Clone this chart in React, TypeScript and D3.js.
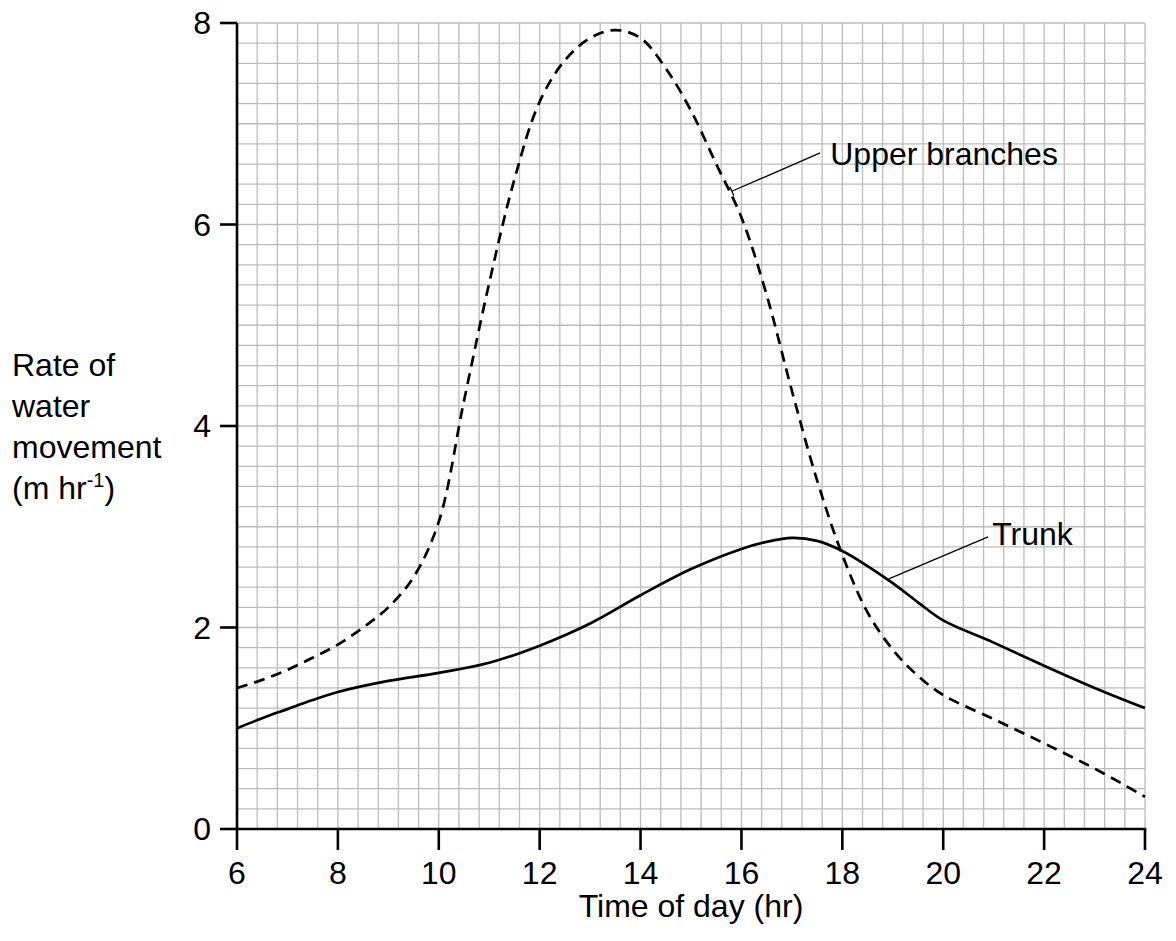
import React from "react";
import * as d3 from "d3";

const upperHours = [6, 6.5, 7, 7.5, 8, 8.5, 9, 9.5, 10, 10.5, 11, 11.5, 12, 12.5, 13, 13.5, 14, 14.5, 15, 15.5, 16, 16.5, 17, 17.5, 18, 18.5, 19, 19.5, 20, 21, 22, 23, 24];
const upperValues = [1.4, 1.48, 1.58, 1.7, 1.83, 2.0, 2.2, 2.5, 3.05, 4.25, 5.42, 6.45, 7.22, 7.63, 7.85, 7.93, 7.85, 7.55, 7.13, 6.6, 6.07, 5.3, 4.35, 3.46, 2.72, 2.15, 1.78, 1.52, 1.33, 1.09, 0.85, 0.6, 0.32];

const trunkHours = [6, 6.5, 7, 7.5, 8, 9, 10, 11, 12, 13, 14, 15, 16, 16.5, 17, 17.5, 18, 18.5, 19, 19.5, 20, 21, 22, 23, 24];
const trunkValues = [1.0, 1.1, 1.19, 1.28, 1.36, 1.47, 1.55, 1.65, 1.82, 2.04, 2.32, 2.58, 2.78, 2.85, 2.89, 2.86, 2.76, 2.61, 2.44, 2.25, 2.07, 1.85, 1.62, 1.4, 1.2];

const xTicks = [6, 8, 10, 12, 14, 16, 18, 20, 22, 24];
const yTicks = [0, 2, 4, 6, 8];
const yTitleLines = ["Rate of", "water", "movement"];
const xTitle = "Time of day (hr)";

const upperLabel = { text: "Upper branches", tx: 17.76, ty: 6.59, x1: 17.56, y1: 6.71, x2: 15.81, y2: 6.33 };
const trunkLabel = { text: "Trunk", tx: 20.97, ty: 2.82, x1: 20.89, y1: 2.9, x2: 18.91, y2: 2.48 };

export default function App() {
  const W = 1176, H = 941;
  const x = d3.scaleLinear().domain([6, 24]).range([237, 1145]);
  const y = d3.scaleLinear().domain([0, 8]).range([829, 23]);
  const font = "'Liberation Sans', Arial, Helvetica, sans-serif";
  const fs = 32;

  const xGrid = d3.range(0, 46).map((i) => 6 + i * 0.4);
  const yGrid = d3.range(0, 41).map((i) => i * 0.2);

  const line = d3
    .line<[number, number]>()
    .x((d) => x(d[0]))
    .y((d) => y(d[1]))
    .curve(d3.curveCatmullRom.alpha(0.5));

  const upperPath = line(upperHours.map((h, i) => [h, upperValues[i]]) as [number, number][]) || "";
  const trunkPath = line(trunkHours.map((h, i) => [h, trunkValues[i]]) as [number, number][]) || "";

  const ux1 = x(upperLabel.x1), uy1 = y(upperLabel.y1), ux2 = x(upperLabel.x2), uy2 = y(upperLabel.y2);
  const len = Math.hypot(ux1 - ux2, uy1 - uy2);
  const px = -(uy1 - uy2) / len, py = (ux1 - ux2) / len;

  return (
    <svg width={W} height={H} style={{ position: "absolute", left: 0, top: 0, background: "#fff" }} fontFamily={font}>
      <rect x={0} y={0} width={W} height={H} fill="#fff" />
      <g stroke="#bcbcbc" strokeWidth={1.3}>
        {xGrid.map((g, i) => (
          <line key={"gx" + i} x1={x(g)} x2={x(g)} y1={y(0)} y2={y(8)} />
        ))}
        {yGrid.map((g, i) => (
          <line key={"gy" + i} x1={x(6)} x2={x(24)} y1={y(g)} y2={y(g)} />
        ))}
      </g>

      <path d={upperPath} fill="none" stroke="#000" strokeWidth={2.7} strokeDasharray="11 7" />
      <path d={trunkPath} fill="none" stroke="#000" strokeWidth={2.7} />

      <line x1={x(6)} x2={x(6)} y1={y(0) + 1.3} y2={y(8)} stroke="#000" strokeWidth={2.6} />
      <line x1={x(6) - 1.3} x2={x(24) + 1.3} y1={y(0)} y2={y(0)} stroke="#000" strokeWidth={2.6} />
      {xTicks.map((t) => (
        <g key={"xt" + t}>
          <line x1={x(t)} x2={x(t)} y1={y(0)} y2={y(0) + 21} stroke="#000" strokeWidth={2.6} />
          <text x={x(t)} y={y(0) + 55} fontSize={fs} textAnchor="middle" fill="#000">
            {t}
          </text>
        </g>
      ))}
      {yTicks.map((t) => (
        <g key={"yt" + t}>
          <line x1={x(6) - 17} x2={x(6)} y1={y(t)} y2={y(t)} stroke="#000" strokeWidth={2.6} />
          <text x={x(6) - 26} y={y(t) + 11} fontSize={fs} textAnchor="end" fill="#000">
            {t}
          </text>
        </g>
      ))}

      <text x={(x(6) + x(24)) / 2} y={917} fontSize={fs} textAnchor="middle" fill="#000">
        {xTitle}
      </text>

      {yTitleLines.map((l, i) => (
        <text key={"yl" + i} x={12} y={376 + i * 41} fontSize={fs} fill="#000">
          {l}
        </text>
      ))}
      <text x={12} y={376 + 3 * 41} fontSize={fs} fill="#000">
        (m hr
        <tspan fontSize={20} dy={-12}>-1</tspan>
        <tspan dy={12}>)</tspan>
      </text>

      <line x1={ux1} y1={uy1} x2={ux2} y2={uy2} stroke="#000" strokeWidth={1.3} />
      <line x1={ux2 - px * 5} y1={uy2 - py * 5} x2={ux2 + px * 5} y2={uy2 + py * 5} stroke="#000" strokeWidth={1.3} />
      <text x={x(upperLabel.tx)} y={y(upperLabel.ty)} fontSize={fs} fill="#000">
        {upperLabel.text}
      </text>
      <line x1={x(trunkLabel.x1)} y1={y(trunkLabel.y1)} x2={x(trunkLabel.x2)} y2={y(trunkLabel.y2)} stroke="#000" strokeWidth={1.3} />
      <text x={x(trunkLabel.tx)} y={y(trunkLabel.ty)} fontSize={fs} fill="#000">
        {trunkLabel.text}
      </text>
    </svg>
  );
}
